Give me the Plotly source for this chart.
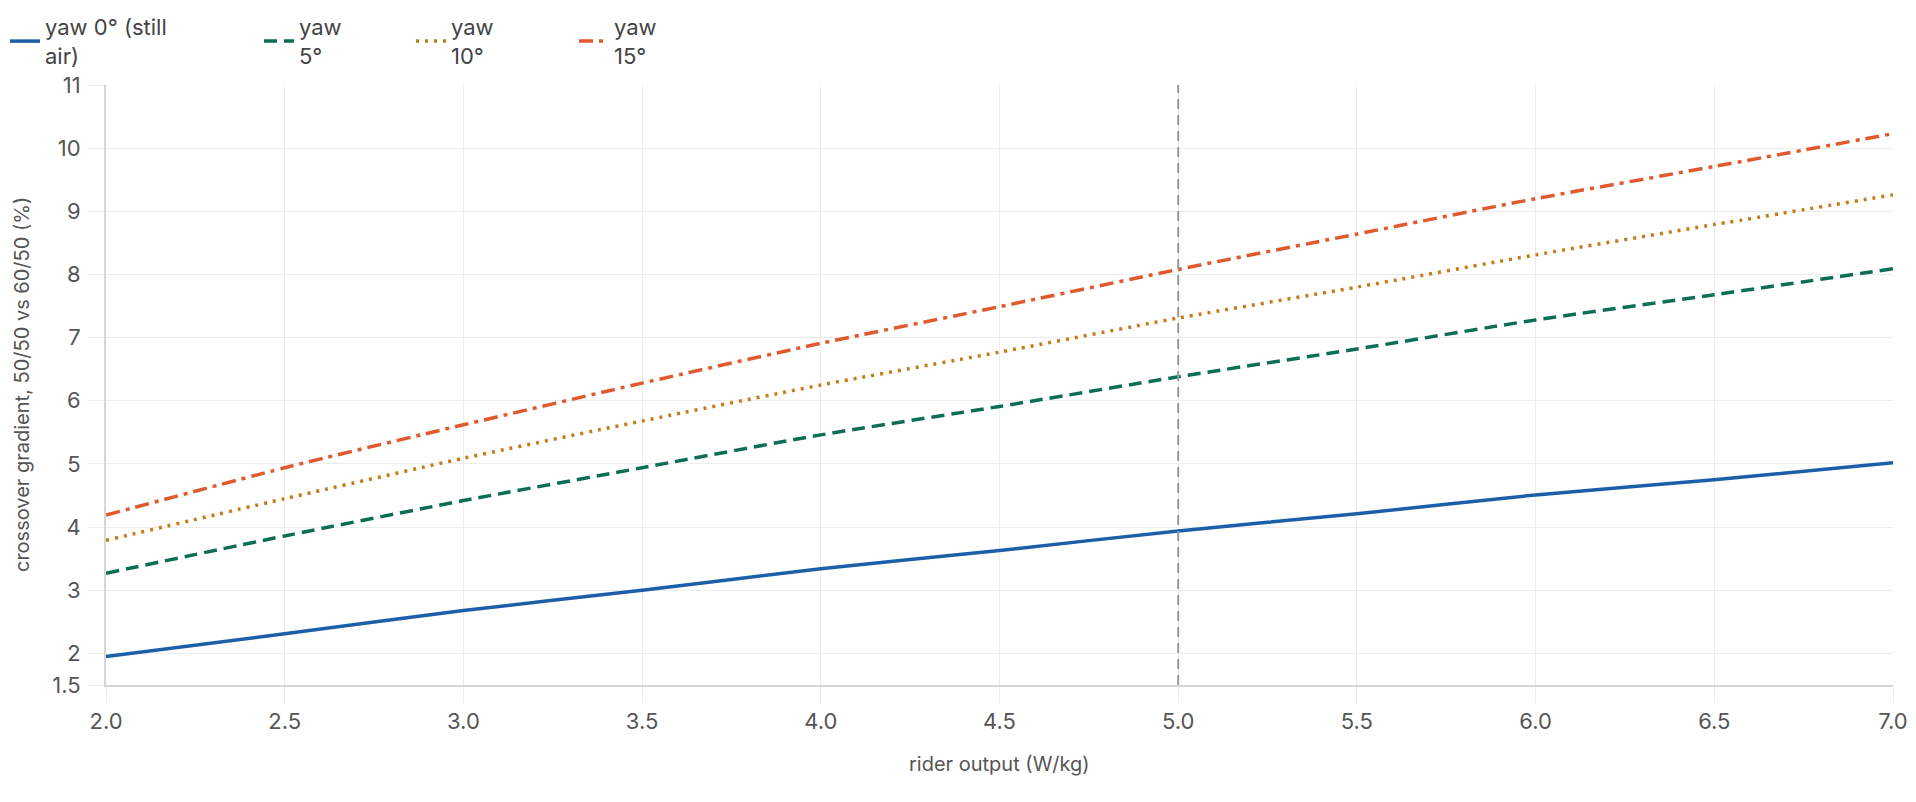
import plotly.graph_objects as go

# ---- data ----
rider_output = [2.0, 2.5, 3.0, 3.5, 4.0, 4.5, 5.0, 5.5, 6.0, 6.5, 7.0]
yaw0 = [1.95, 2.31, 2.68, 3.00, 3.34, 3.63, 3.94, 4.21, 4.51, 4.75, 5.02]
yaw5 = [3.27, 3.86, 4.42, 4.94, 5.46, 5.91, 6.38, 6.82, 7.28, 7.68, 8.09]
yaw10 = [3.79, 4.45, 5.09, 5.68, 6.25, 6.77, 7.31, 7.80, 8.31, 8.79, 9.26]
yaw15 = [4.19, 4.94, 5.62, 6.28, 6.91, 7.49, 8.08, 8.64, 9.20, 9.71, 10.23]
series_names = ["yaw 0° (still<br>air)", "yaw<br>5°", "yaw<br>10°", "yaw<br>15°"]
ref_x = 5.0
y_ticks = [1.5, 2, 3, 4, 5, 6, 7, 8, 9, 10, 11]
x_ticks = [2.0, 2.5, 3.0, 3.5, 4.0, 4.5, 5.0, 5.5, 6.0, 6.5, 7.0]

colors = ["#1c5ea8", "#0d6e55", "#c47c18", "#e05a2e"]
dashes = ["solid", "13px,7px", "3px,6px", "14px,6px,4px,6px"]
legend_text_x = [45, 299, 451, 614]

FONT = "Inter, Liberation Sans, Arial, sans-serif"
W, H = 1916, 802

fig = go.Figure()
all_y = [yaw0, yaw5, yaw10, yaw15]
legend_ids = ["legend", "legend2", "legend3", "legend4"]
for i, (ys, name) in enumerate(zip(all_y, series_names)):
    fig.add_trace(go.Scatter(
        x=rider_output, y=ys, mode="lines", name=name,
        line=dict(color=colors[i], width=3.5, dash=dashes[i], shape="spline", smoothing=0.6),
        legend=legend_ids[i],
    ))

fig.add_shape(type="line", xref="x", yref="paper", x0=ref_x, x1=ref_x, y0=0, y1=1,
              line=dict(color="#9a9a9a", width=2, dash="10px,6px"))

legend_common = dict(
    orientation="h", xref="container", yref="container",
    xanchor="left", yanchor="top", y=1.0 - 6 / H,
    font=dict(family=FONT, size=22, color="#444444"),
    bgcolor="rgba(0,0,0,0)", borderwidth=0,
)
layout_legends = {}
for i, lid in enumerate(legend_ids):
    layout_legends[lid] = dict(legend_common, x=(legend_text_x[i] - 40) / W)

fig.update_layout(
    width=W, height=H,
    margin=dict(l=106, r=23, t=85, b=117, autoexpand=False),
    paper_bgcolor="white", plot_bgcolor="white",
    font=dict(family=FONT, size=22, color="#555555"),
    showlegend=True,
    **layout_legends,
    xaxis=dict(
        range=[2, 7], tickvals=x_ticks, ticktext=[f"{v:.1f}" for v in x_ticks],
        showgrid=True, gridcolor="#ececec", gridwidth=1,
        showline=True, linecolor="#d6d6d6", linewidth=2,
        ticks="outside", ticklen=16, tickcolor="#ececec", tickwidth=1,
        tickfont=dict(family=FONT, size=22, color="#555555"),
        zeroline=False, automargin=False,
    ),
    yaxis=dict(
        range=[1.5, 11], tickvals=y_ticks, ticktext=["1.5"] + [str(v) for v in y_ticks[1:]],
        showgrid=True, gridcolor="#ececec", gridwidth=1,
        showline=True, linecolor="#d6d6d6", linewidth=2,
        ticks="outside", ticklen=16, tickcolor="#ececec", tickwidth=1,
        ticklabelstandoff=3,
        tickfont=dict(family=FONT, size=22, color="#555555"),
        zeroline=False, automargin=False,
    ),
    annotations=[
        dict(text="rider output (W/kg)", xref="paper", yref="paper", x=0.5, y=(685 - 764) / 600,
             xanchor="center", yanchor="middle", showarrow=False,
             font=dict(family=FONT, size=20, color="#555555")),
        dict(text="crossover gradient, 50/50 vs 60/50 (%)", xref="paper", yref="paper",
             x=(22 - 106) / 1787, y=0.5, xanchor="center", yanchor="middle", textangle=-90,
             showarrow=False, font=dict(family=FONT, size=20, color="#555555")),
    ],
)

fig.write_html("out.html")
